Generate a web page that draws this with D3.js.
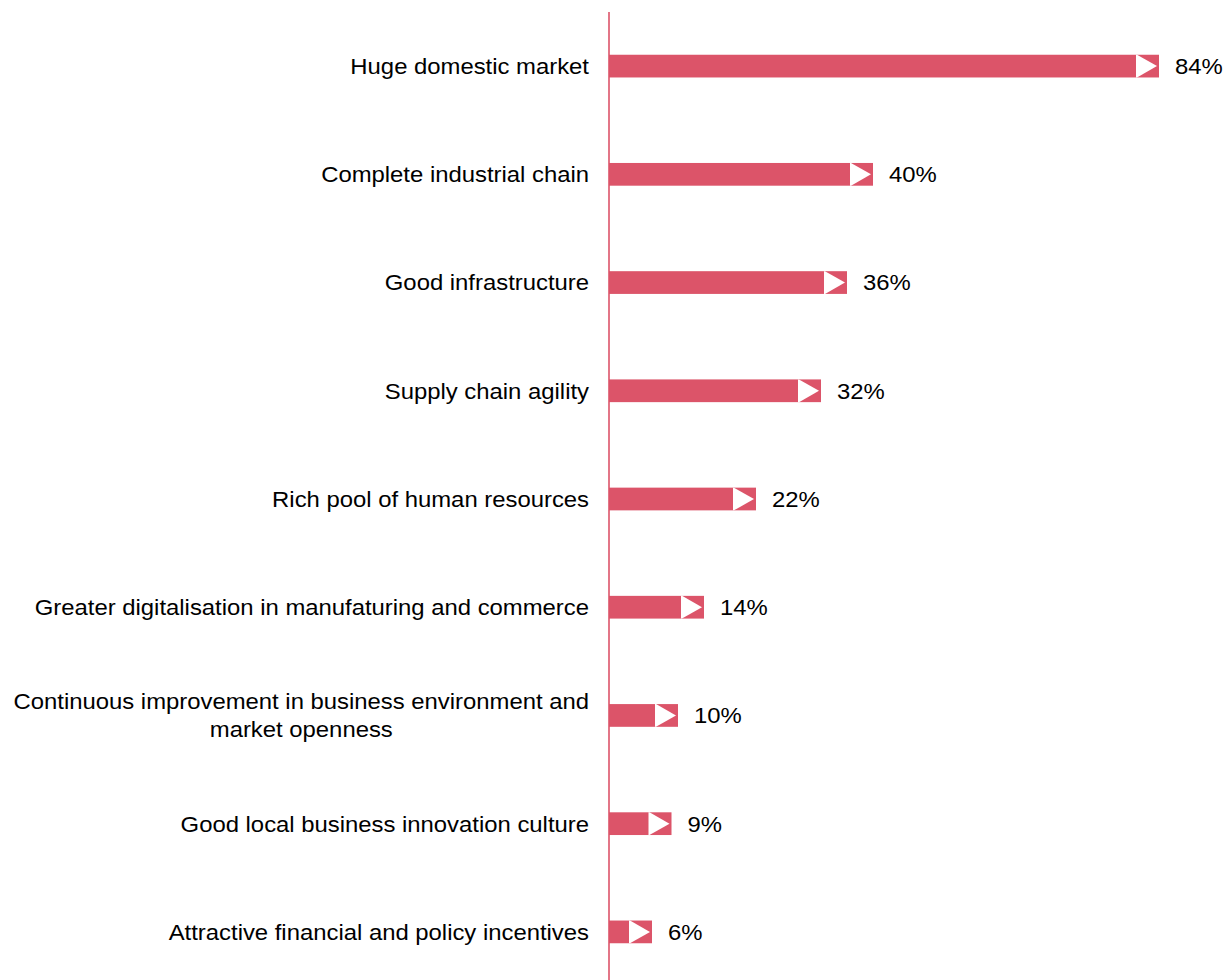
<!DOCTYPE html>
<html>
<head>
<meta charset="utf-8">
<script src="https://cdn.jsdelivr.net/npm/d3@7"></script>
<style>
  html, body { margin: 0; padding: 0; background: #ffffff; }
  svg { display: block; }
  text { font-family: "Liberation Sans", Arial, sans-serif; fill: #000; }
</style>
</head>
<body>
<svg id="chart" width="1227" height="980"></svg>
<script>
// Reasons cited, share of respondents (%)
const categories = [
  "Huge domestic market",
  "Complete industrial chain",
  "Good infrastructure",
  "Supply chain agility",
  "Rich pool of human resources",
  "Greater digitalisation in manufaturing and commerce",
  "Continuous improvement in business environment and|market openness",
  "Good local business innovation culture",
  "Attractive financial and policy incentives"
];
const values = [84, 40, 36, 32, 22, 14, 10, 9, 6];
const valueLabels = ["84%", "40%", "36%", "32%", "22%", "14%", "10%", "9%", "6%"];

const W = 1227, H = 980;
const axisX = 609;
const barColor = "#dc5469";
const fontSize = 22;
const stretch = 1.085;   // text is set slightly wide

const svg = d3.select("#chart");

const x = d3.scaleLinear().domain([0, 84]).range([613, 1159]);
const y = d3.scaleBand().domain(categories).range([12, 986]).paddingInner(0.79).paddingOuter(0.395);

const rows = svg.append("g").selectAll("g")
  .data(categories.map((c, i) => ({ c, v: values[i], label: valueLabels[i] })))
  .join("g")
  .attr("transform", d => `translate(0,${y(d.c)})`);

const bh = y.bandwidth();

// bar body
rows.append("rect")
  .attr("x", axisX)
  .attr("y", 0)
  .attr("width", d => x(d.v) - axisX)
  .attr("height", bh)
  .attr("fill", barColor);

// white arrowhead cut into the end of each bar
const arrowW = 22;
rows.append("path")
  .attr("d", d => {
    const e = x(d.v);
    return `M${e - arrowW - 1},0 L${e - arrowW},0 L${e - 2},${bh / 2} L${e - arrowW},${bh} L${e - arrowW - 1},${bh} Z`;
  })
  .attr("fill", "#fff");

// value labels
rows.append("text")
  .attr("transform", d => `translate(${x(d.v) + 16},${bh / 2}) scale(${stretch},1)`)
  .attr("dy", "0.36em")
  .attr("font-size", fontSize)
  .text(d => d.label);

// category labels (multi-line labels are centred within their block)
rows.each(function(d) {
  const g = d3.select(this);
  const lines = d.c.split("|");
  const t = g.append("text")
    .attr("font-size", fontSize)
    .attr("transform", `translate(589,${bh / 2 - (lines.length - 1) * 14}) scale(${stretch},1)`);
  if (lines.length === 1) {
    t.attr("text-anchor", "end").attr("dy", "0.36em").text(lines[0]);
  } else {
    t.attr("text-anchor", "middle");
    lines.forEach((ln, i) => {
      t.append("tspan").attr("x", 0).attr("dy", i === 0 ? "0.36em" : 28).text(ln);
    });
    const wMax = d3.max(t.selectAll("tspan").nodes(), n => n.getComputedTextLength());
    t.selectAll("tspan").attr("x", -wMax / 2);
  }
});

// vertical axis line
svg.append("line")
  .attr("x1", axisX).attr("x2", axisX)
  .attr("y1", 12).attr("y2", H)
  .attr("stroke", barColor)
  .attr("stroke-width", 1.6);
</script>
</body>
</html>
